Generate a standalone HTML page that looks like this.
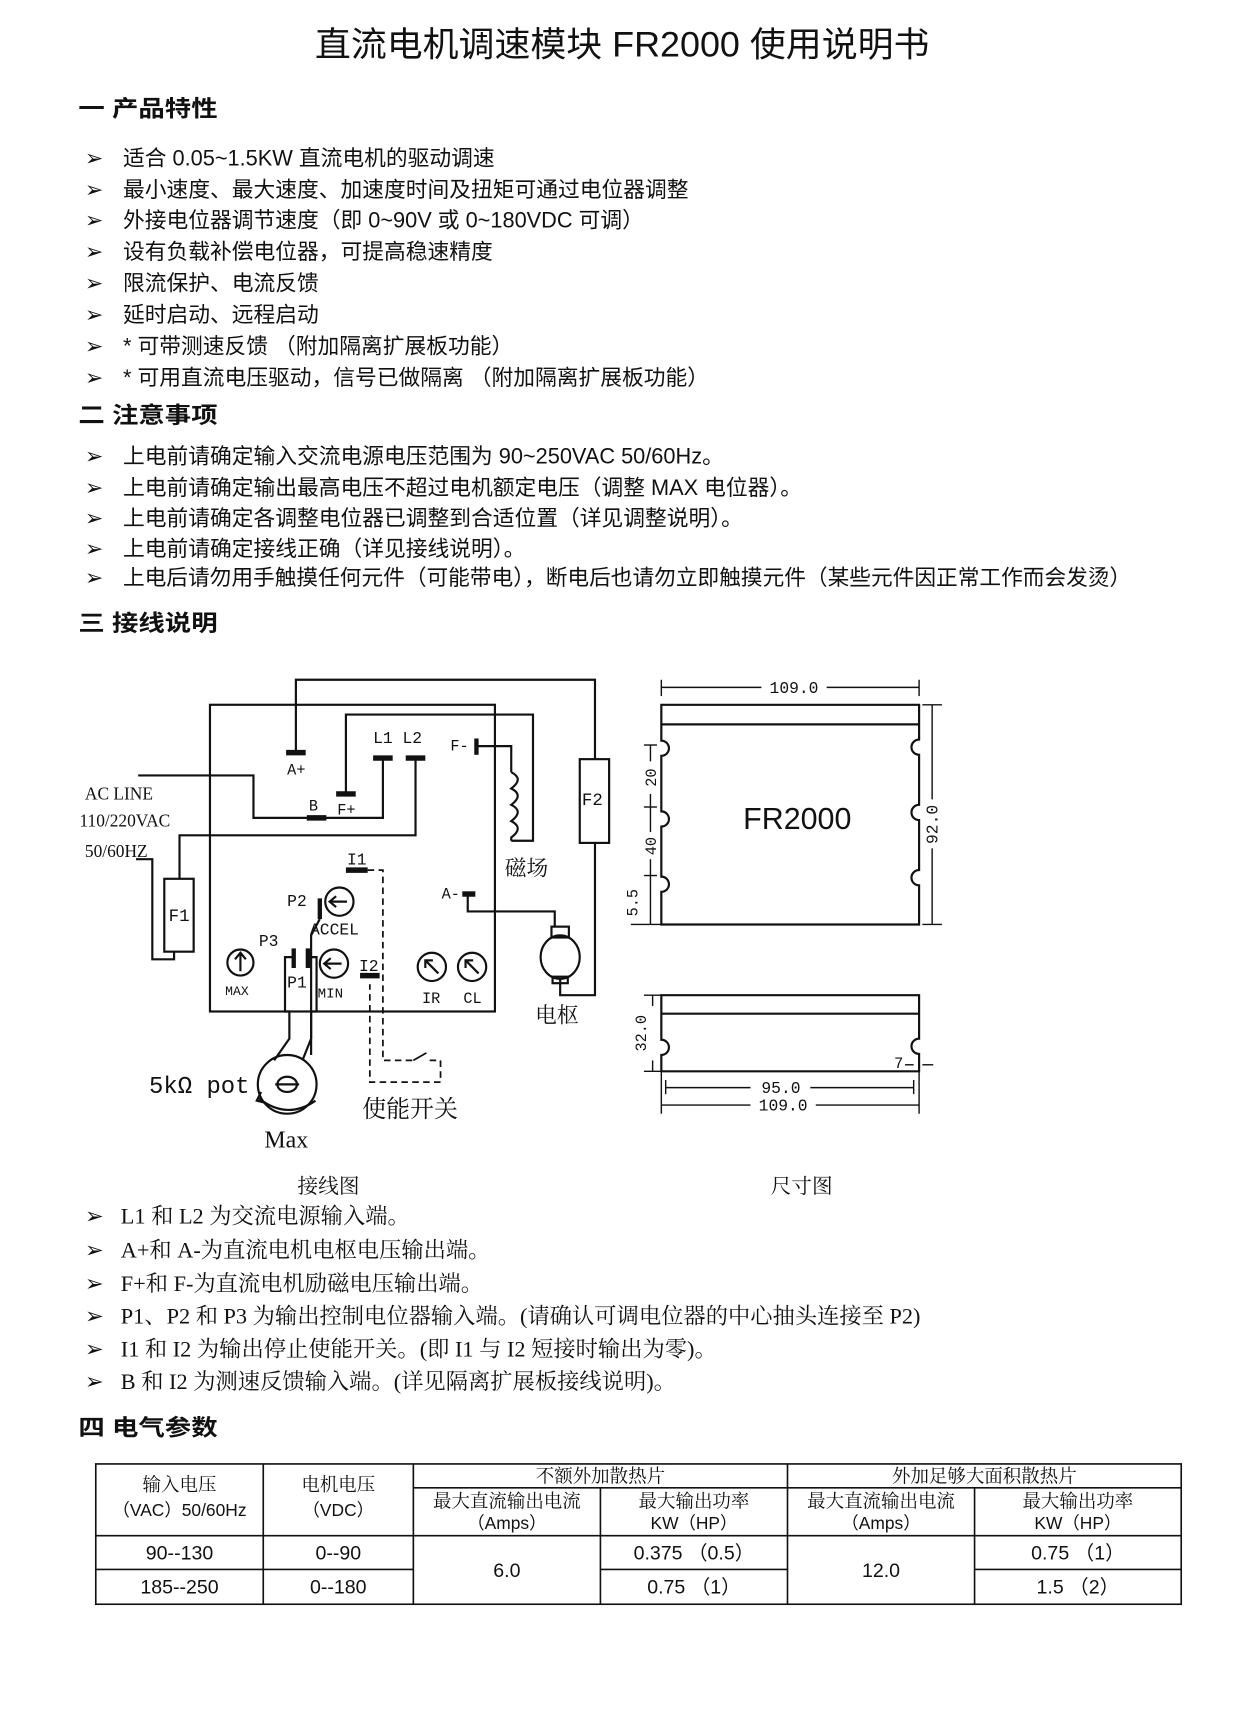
<!DOCTYPE html>
<html><head><meta charset="utf-8"><style>
html,body{margin:0;padding:0;background:#fff;}
svg{display:block;}
.s{font-family:"Liberation Sans","Noto Sans CJK SC",sans-serif;}
.r{font-family:"Liberation Serif","Noto Serif CJK SC",serif;}
.m{font-family:"Liberation Mono","Noto Sans CJK SC",monospace;}
</style></head><body>
<svg width="1240" height="1713" viewBox="0 0 1140 1575" xmlns="http://www.w3.org/2000/svg">
<rect width="1140" height="1575" fill="#fff"/>
<g fill="#111">
<text x="572" y="52" font-size="32" text-anchor="middle" class="s" textLength="565" lengthAdjust="spacingAndGlyphs">直流电机调速模块 FR2000 使用说明书</text>
<text x="72" y="107" font-size="21" font-weight="bold" class="s" textLength="128" lengthAdjust="spacingAndGlyphs">一  产品特性</text>
<g font-size="20" class="s">
<text x="78" y="152">➢</text><text x="113" y="152">适合 0.05~1.5KW 直流电机的驱动调速</text>
<text x="78" y="181">➢</text><text x="113" y="181">最小速度、最大速度、加速度时间及扭矩可通过电位器调整</text>
<text x="78" y="209">➢</text><text x="113" y="209">外接电位器调节速度（即 0~90V 或 0~180VDC 可调）</text>
<text x="78" y="238">➢</text><text x="113" y="238">设有负载补偿电位器，可提高稳速精度</text>
<text x="78" y="267">➢</text><text x="113" y="267">限流保护、电流反馈</text>
<text x="78" y="296">➢</text><text x="113" y="296">延时启动、远程启动</text>
<text x="78" y="325">➢</text><text x="113" y="325">*  可带测速反馈  （附加隔离扩展板功能）</text>
<text x="78" y="354">➢</text><text x="113" y="354">*  可用直流电压驱动，信号已做隔离  （附加隔离扩展板功能）</text>
</g>
<text x="72" y="389" font-size="21" font-weight="bold" class="s" textLength="128" lengthAdjust="spacingAndGlyphs">二  注意事项</text>
<g font-size="20" class="s">
<text x="78" y="426">➢</text><text x="113" y="426">上电前请确定输入交流电源电压范围为 90~250VAC 50/60Hz。</text>
<text x="78" y="455">➢</text><text x="113" y="455">上电前请确定输出最高电压不超过电机额定电压（调整 MAX 电位器）。</text>
<text x="78" y="483">➢</text><text x="113" y="483">上电前请确定各调整电位器已调整到合适位置（详见调整说明）。</text>
<text x="78" y="511">➢</text><text x="113" y="511">上电前请确定接线正确（详见接线说明）。</text>
<text x="78" y="538">➢</text><text x="113" y="538" textLength="927" lengthAdjust="spacingAndGlyphs">上电后请勿用手触摸任何元件（可能带电），断电后也请勿立即触摸元件（某些元件因正常工作而会发烫）</text>
</g>
<text x="72" y="580" font-size="21" font-weight="bold" class="s" textLength="128" lengthAdjust="spacingAndGlyphs">三  接线说明</text>
</g>

<!-- wiring diagram -->
<g stroke="#111" stroke-width="2" fill="none">
<rect x="193" y="648" width="262" height="282"/>
<polyline points="272,692 272,625 547,625 547,698"/>
<rect x="533" y="698" width="27" height="77"/>
<polyline points="547,775 547,915 515,915 515,900"/>
<polyline points="318,730 318,657 490,657 490,773 470,773"/>
<polyline points="438,686 470,686 470,710"/>
<path d="M470,710 q12,6 0,15 q12,6 0,15 q12,6 0,15 q12,6 0,15 L470,773"/>
<polyline points="127,713 233,713 233,752 352,752 352,697"/>
<polyline points="382,697 382,768 165,768 165,808"/>
<rect x="151" y="808" width="27" height="67"/>
<polyline points="125,790 140,790 140,882 160,882 160,875"/>
<polyline points="430,822 430,838 510,838 510,852"/>
<rect x="507" y="852" width="16" height="10"/>
<ellipse cx="515" cy="880" rx="18" ry="20"/>
<rect x="508" y="898" width="14" height="6"/>
<circle cx="221" cy="885" r="12"/><line x1="221" y1="893" x2="221" y2="877"/><polyline points="216,882 221,876 226,882"/>
<circle cx="312" cy="829" r="13"/><line x1="304" y1="829" x2="319" y2="829"/><polyline points="309,824 303,829 309,834"/>
<circle cx="307" cy="886" r="13"/><line x1="299" y1="886" x2="314" y2="886"/><polyline points="304,881 298,886 304,891"/>
<circle cx="397" cy="889" r="13"/><line x1="403" y1="895" x2="392" y2="884"/><polyline points="391,890 391,883 398,883"/>
<circle cx="434" cy="889" r="13"/><line x1="440" y1="895" x2="429" y2="884"/><polyline points="428,890 428,883 435,883"/>
<line x1="294" y1="826" x2="294" y2="845" stroke-width="4"/>
<polyline points="294,845 286,860 286,970"/>
<polyline points="270,880 262,880 262,930 266,930 266,955 252,975"/>
<polyline points="283,880 291,880 291,930 286,930 286,955 278,975"/>
<line x1="270" y1="872" x2="270" y2="890" stroke-width="4"/>
<line x1="283" y1="872" x2="283" y2="890" stroke-width="4"/>
<circle cx="264" cy="997" r="27"/>
<ellipse cx="264" cy="997" rx="9" ry="7"/><line x1="253" y1="997" x2="275" y2="997"/>
<path d="M238,1010 q26,20 52,2"/><polyline points="240,1004 236,1012 244,1014"/>
<g stroke-dasharray="6,4" stroke-width="1.6">
<polyline points="338,800 352,800 352,975 380,975"/>
<polyline points="395,975 405,975 405,995 340,995 340,905"/>
</g>
<polyline points="380,975 392,968" stroke-width="1.6"/>
<g stroke-width="5">
<line x1="263" y1="692" x2="281" y2="692"/>
<line x1="309" y1="730" x2="327" y2="730"/>
<line x1="282" y1="752" x2="300" y2="752"/>
<line x1="343" y1="697" x2="361" y2="697"/>
<line x1="373" y1="697" x2="391" y2="697"/>
<line x1="318" y1="800" x2="338" y2="800"/>
<line x1="331" y1="897" x2="349" y2="897"/>
<line x1="425" y1="822" x2="437" y2="822"/>
</g>
<line x1="438" y1="679" x2="438" y2="694" stroke-width="4"/>
</g>
<g fill="#111" class="m" font-size="14">
<text x="264" y="712">A+</text>
<text x="310" y="749">F+</text>
<text x="284" y="745">B</text>
<text x="343" y="683" font-size="15">L1 L2</text>
<text x="414" y="690">F-</text>
<text x="406" y="826">A-</text>
<text x="319" y="795" font-size="15">I1</text>
<text x="330" y="893" font-size="15">I2</text>
<text x="264" y="833" font-size="15">P2</text>
<text x="238" y="870" font-size="15">P3</text>
<text x="264" y="908" font-size="15">P1</text>
<text x="285" y="859" font-size="15">ACCEL</text>
<text x="207" y="915" font-size="12">MAX</text>
<text x="292" y="917" font-size="13">MIN</text>
<text x="388" y="922" font-size="14">IR</text>
<text x="426" y="922" font-size="14">CL</text>
<text x="155" y="847" font-size="16">F1</text>
<text x="535" y="740" font-size="16">F2</text>
<text x="78" y="735" font-size="16" class="r">AC LINE</text>
<text x="73" y="760" font-size="16" class="r">110/220VAC</text>
<text x="78" y="788" font-size="16" class="r">50/60HZ</text>
<text x="137" y="1005" font-size="22">5kΩ pot</text>
<text x="243" y="1055" font-size="22" class="r">Max</text>
<text x="333" y="1027" font-size="22" class="r">使能开关</text>
<text x="464" y="805" font-size="20" class="r">磁场</text>
<text x="492" y="940" font-size="20" class="r">电枢</text>
</g>

<!-- dimension drawing -->
<g stroke="#111" stroke-width="2" fill="none">
<path d="M608,648 H845 V680 a7,7 0 0 0 0,14 V740 a7,7 0 0 0 0,14 V800 a7,7 0 0 0 0,14 V850 H608 V820 a7,7 0 0 0 0,-14 V760 a7,7 0 0 0 0,-14 V695 a7,7 0 0 0 0,-14 Z"/>
<line x1="608" y1="666" x2="845" y2="666"/>
<path d="M608,915 H845 V955 a7,7 0 0 0 0,14 V985 H608 V970 a7,7 0 0 0 0,-14 Z"/>
<line x1="608" y1="932" x2="845" y2="932"/>
<g stroke-width="1.3">
<line x1="608" y1="632" x2="700" y2="632"/><line x1="760" y1="632" x2="845" y2="632"/>
<line x1="608" y1="625" x2="608" y2="640"/><line x1="845" y1="625" x2="845" y2="640"/>
<line x1="857" y1="648" x2="857" y2="735"/><line x1="857" y1="780" x2="857" y2="850"/>
<line x1="848" y1="648" x2="866" y2="648"/><line x1="848" y1="850" x2="866" y2="850"/>
<line x1="598" y1="685" x2="598" y2="700"/><line x1="598" y1="730" x2="598" y2="765"/><line x1="598" y1="790" x2="598" y2="850"/>
<line x1="592" y1="742" x2="604" y2="742"/><line x1="592" y1="805" x2="604" y2="805"/>
<line x1="592" y1="685" x2="604" y2="685"/>
<line x1="580" y1="850" x2="608" y2="850"/>
<line x1="600" y1="915" x2="600" y2="925"/><line x1="600" y1="975" x2="600" y2="985"/>
<line x1="592" y1="915" x2="608" y2="915"/><line x1="592" y1="985" x2="608" y2="985"/>
<line x1="612" y1="1000" x2="690" y2="1000"/><line x1="745" y1="1000" x2="840" y2="1000"/>
<line x1="612" y1="993" x2="612" y2="1006"/><line x1="840" y1="993" x2="840" y2="1006"/>
<line x1="608" y1="1016" x2="690" y2="1016"/><line x1="750" y1="1016" x2="845" y2="1016"/>
<line x1="608" y1="985" x2="608" y2="1024"/><line x1="845" y1="985" x2="845" y2="1024"/>
<line x1="832" y1="979" x2="840" y2="979"/><line x1="848" y1="979" x2="858" y2="979"/>
</g>
</g>
<g fill="#111" class="m">
<text x="730" y="637" font-size="15" text-anchor="middle">109.0</text>
<text x="733" y="762" font-size="28" class="s" text-anchor="middle">FR2000</text>
<text x="718" y="1005" font-size="15" text-anchor="middle">95.0</text>
<text x="720" y="1021" font-size="15" text-anchor="middle">109.0</text>
<text x="822" y="982" font-size="14">7</text>
<text transform="translate(862,758) rotate(-90)" font-size="15" text-anchor="middle">92.0</text>
<text transform="translate(603,715) rotate(-90)" font-size="14" text-anchor="middle">20</text>
<text transform="translate(603,778) rotate(-90)" font-size="14" text-anchor="middle">40</text>
<text transform="translate(586,830) rotate(-90)" font-size="14" text-anchor="middle">5.5</text>
<text transform="translate(594,950) rotate(-90)" font-size="14" text-anchor="middle">32.0</text>
</g>

<g fill="#111">
<text x="302" y="1097" font-size="19" class="r" text-anchor="middle">接线图</text>
<text x="737" y="1097" font-size="19" class="r" text-anchor="middle">尺寸图</text>
<g font-size="20.5" class="r">
<text x="78" y="1125">➢</text><text x="111" y="1125">L1 和 L2 为交流电源输入端。</text>
<text x="78" y="1156">➢</text><text x="111" y="1156">A+和 A-为直流电机电枢电压输出端。</text>
<text x="78" y="1187">➢</text><text x="111" y="1187">F+和 F-为直流电机励磁电压输出端。</text>
<text x="78" y="1217">➢</text><text x="111" y="1217">P1、P2 和 P3 为输出控制电位器输入端。(请确认可调电位器的中心抽头连接至 P2)</text>
<text x="78" y="1247">➢</text><text x="111" y="1247">I1 和 I2 为输出停止使能开关。(即 I1 与 I2 短接时输出为零)。</text>
<text x="78" y="1277">➢</text><text x="111" y="1277">B  和 I2 为测速反馈输入端。(详见隔离扩展板接线说明)。</text>
</g>
<text x="72" y="1320" font-size="21" font-weight="bold" class="s" textLength="128" lengthAdjust="spacingAndGlyphs">四  电气参数</text>
</g>

<!-- table -->
<g stroke="#111" stroke-width="1.5" fill="none">
<rect x="88" y="1346" width="998" height="129"/>
<line x1="242" y1="1346" x2="242" y2="1475"/>
<line x1="380" y1="1346" x2="380" y2="1475"/>
<line x1="724" y1="1346" x2="724" y2="1475"/>
<line x1="552" y1="1368" x2="552" y2="1475"/>
<line x1="896" y1="1368" x2="896" y2="1475"/>
<line x1="380" y1="1368" x2="1086" y2="1368"/>
<line x1="88" y1="1412" x2="1086" y2="1412"/>
<line x1="88" y1="1443" x2="380" y2="1443"/>
<line x1="552" y1="1443" x2="724" y2="1443"/>
<line x1="896" y1="1443" x2="1086" y2="1443"/>
</g>
<g fill="#111" text-anchor="middle">
<g font-size="17" class="r">
<text x="165" y="1371">输入电压</text>
<text x="311" y="1371">电机电压</text>
<text x="552" y="1363">不额外加散热片</text>
<text x="905" y="1363">外加足够大面积散热片</text>
<text x="466" y="1386">最大直流输出电流</text>
<text x="638" y="1386">最大输出功率</text>
<text x="810" y="1386">最大直流输出电流</text>
<text x="991" y="1386">最大输出功率</text>
</g>
<g font-size="16" class="s">
<text x="165" y="1394">（VAC）50/60Hz</text>
<text x="311" y="1394">（VDC）</text>
<text x="466" y="1406">（Amps）</text>
<text x="638" y="1406">KW（HP）</text>
<text x="810" y="1406">（Amps）</text>
<text x="991" y="1406">KW（HP）</text>
</g>
<g font-size="18" class="s">
<text x="165" y="1434">90--130</text>
<text x="311" y="1434">0--90</text>
<text x="165" y="1465">185--250</text>
<text x="311" y="1465">0--180</text>
<text x="466" y="1450">6.0</text>
<text x="638" y="1434">0.375 （0.5）</text>
<text x="638" y="1465">0.75 （1）</text>
<text x="810" y="1450">12.0</text>
<text x="991" y="1434">0.75 （1）</text>
<text x="991" y="1465">1.5 （2）</text>
</g>
</g>
</svg>
</body></html>
